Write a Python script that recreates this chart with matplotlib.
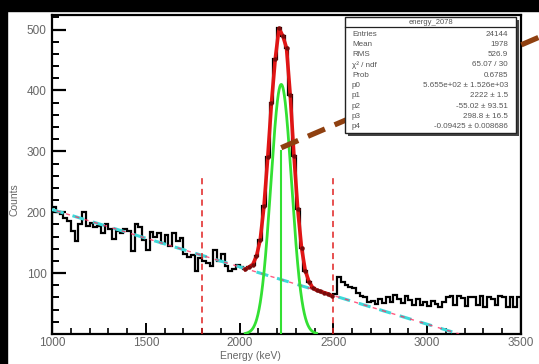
import numpy as np
import matplotlib
matplotlib.use("Agg")
import matplotlib.pyplot as plt
from matplotlib.patches import Rectangle
from matplotlib.lines import Line2D

plt.rcParams['font.family'] = ['Liberation Sans', 'DejaVu Sans']

# ---------------- data ----------------
bin_edges_start = 1000
bin_width = 20
counts = [
    208, 200, 197, 190, 186, 170, 152, 180, 201, 178,
    182, 176, 178, 166, 180, 172, 156, 170, 166, 173,
    170, 136, 181, 175, 155, 138, 168, 160, 166, 150,
    163, 145, 166, 152, 157, 132, 126, 130, 104, 125,
    120, 116, 112, 138, 120, 131, 112, 104, 106, 113,
    110, 106, 110, 114, 128, 155, 210, 290, 380, 452,
    502, 490, 470, 392, 292, 205, 142, 104, 86, 76,
    72, 70, 68, 66, 63, 66, 94, 86, 80, 77,
    76, 68, 62, 60, 52, 54, 49, 57, 51, 60,
    53, 64, 58, 51, 62, 56, 48, 57, 47, 52,
    46, 54, 49, 44, 52, 61, 63, 48, 62, 59,
    46, 61, 60, 47, 62, 44, 60, 58, 47, 62,
    60, 45, 61, 44, 60,
]
# fit parameters (gaussian + linear background)
gaus_amp = 410.0
gaus_mean = 2222.0
gaus_sigma = 55.02
bg_p0 = 298.8
bg_p1 = -0.09425
fit_range = (1800, 2500)
gaus_draw_range = (2030, 2410)
red_fit_range = (2030, 2490)
bg_draw_end = 3170

stats_title = "energy_2078"
stats_rows = [
    ("Entries", "24144"),
    ("Mean", "1978"),
    ("RMS", "526.9"),
    ("χ² / ndf", "65.07 / 30"),
    ("Prob", "0.6785"),
    ("p0", "5.655e+02 ± 1.526e+03"),
    ("p1", "2222 ± 1.5"),
    ("p2", "-55.02 ± 93.51"),
    ("p3", "298.8 ± 16.5"),
    ("p4", "-0.09425 ± 0.008686"),
]

# ---------------- figure ----------------
W, H = 539, 364
fig = plt.figure(figsize=(W / 100, H / 100), dpi=100, facecolor='white')

def fx(px):
    return px / W

def fy(py):
    return 1 - py / H

# black frame strips
fig.patches.append(Rectangle((0, fy(11)), 1, 11 / H, transform=fig.transFigure,
                             color='black', zorder=0))
fig.patches.append(Rectangle((0, 0), 7 / W, 1, transform=fig.transFigure,
                             color='black', zorder=0))

ax = fig.add_axes([fx(52), fy(334), fx(521) - fx(52), fy(15) - fy(334)])
ax.set_xlim(1000, 3500)
ax.set_ylim(0, 524)

edges = bin_edges_start + bin_width * np.arange(len(counts) + 1)
centers = edges[:-1] + bin_width / 2
cnt = np.array(counts, dtype=float)

# histogram
ax.stairs(cnt, edges, color='black', lw=1.6, zorder=3)

# background line (cyan + red interleaved dashes)
xb = np.linspace(1000, bg_draw_end, 200)
yb = bg_p0 + bg_p1 * xb
ax.plot(xb, yb, color='#3dd9d9', lw=2.2, ls=(0, (4, 3)), zorder=4)
ax.plot(xb, yb, color='#ff3060', lw=1.0, ls=(3.5, (3, 4)), zorder=4, alpha=0.8)

# fit range markers
for xv in fit_range:
    ax.plot([xv, xv], [0, 262], color='#e02020', lw=1.1, ls=(0, (4, 3)), zorder=4)

# gaussian component (green)
xg = np.linspace(*gaus_draw_range, 300)
yg = gaus_amp * np.exp(-0.5 * ((xg - gaus_mean) / gaus_sigma) ** 2)
ax.plot(xg, yg, color='#33e033', lw=2.0, zorder=5)
ax.plot([gaus_mean, gaus_mean], [0, 300], color='#33e033', lw=1.5, zorder=5)

# red fit curve through bin values in peak region
m = (centers >= red_fit_range[0]) & (centers <= red_fit_range[1])
ax.plot(centers[m], cnt[m], color='#e01515', lw=2.6, zorder=6)
ax.plot(centers[m], cnt[m], ls='none', marker='o', ms=2.2, color='#7a0a0a', zorder=7)

# ticks (ROOT style)
ax.set_xticks(np.arange(1000, 3501, 500))
ax.set_xticks(np.arange(1000, 3501, 100), minor=True)
ax.set_yticks(np.arange(100, 501, 100))
ax.set_yticks(np.arange(20, 521, 20), minor=True)
ax.tick_params(which='both', direction='in', top=False, right=False, colors='black',
               labelcolor='#666666', labelsize=8.5)
ax.tick_params(axis='y', which='major', length=10, width=1.6, pad=4)
ax.tick_params(axis='y', which='minor', length=5, width=1.4)
ax.tick_params(axis='x', which='major', length=8, width=1.4, pad=2)
ax.tick_params(axis='x', which='minor', length=4, width=1.2)
for s in ax.spines.values():
    s.set_linewidth(1.6)

fig.text(fx(250), fy(356), "Energy (keV)", ha='center', va='center', fontsize=7.5,
         color='#666666')
fig.text(fx(15), fy(200), "Counts", ha='center', va='center', fontsize=7.5,
         color='#666666', rotation=90)

# stats box with shadow
bx0, by0, bx1, by1 = 345, 17, 516, 133
fig.patches.append(Rectangle((fx(bx0 + 3), fy(by1 + 3)), (bx1 - bx0) / W, (by1 - by0) / H,
                             transform=fig.transFigure, facecolor='#444444',
                             edgecolor='none', zorder=8))
fig.patches.append(Rectangle((fx(bx0), fy(by1)), (bx1 - bx0) / W, (by1 - by0) / H,
                             transform=fig.transFigure, facecolor='white',
                             edgecolor='#222222', lw=1.0, zorder=9))
fig.add_artist(Line2D([fx(bx0), fx(bx1)], [fy(27), fy(27)], transform=fig.transFigure,
                      color='#222222', lw=0.9, zorder=10))
fig.text(fx((bx0 + bx1) / 2), fy(22), stats_title, ha='center', va='center',
         fontsize=5.5, color='#555555', zorder=11)
for i, (k, v) in enumerate(stats_rows):
    yy = 34 + i * 10.3
    fig.text(fx(352), fy(yy), k, ha='left', va='center', fontsize=5.8,
             color='#555555', zorder=11)
    fig.text(fx(508), fy(yy), v, ha='right', va='center', fontsize=5.8,
             color='#555555', zorder=11)

# brown dashed annotation line
ax.add_line(Line2D([gaus_mean, 3600], [306, 488], color='#8f4010', lw=3.8,
                   ls=(0, (3.5, 2)), clip_on=False, zorder=20))

fig.savefig("out.png", dpi=100, facecolor='white')
